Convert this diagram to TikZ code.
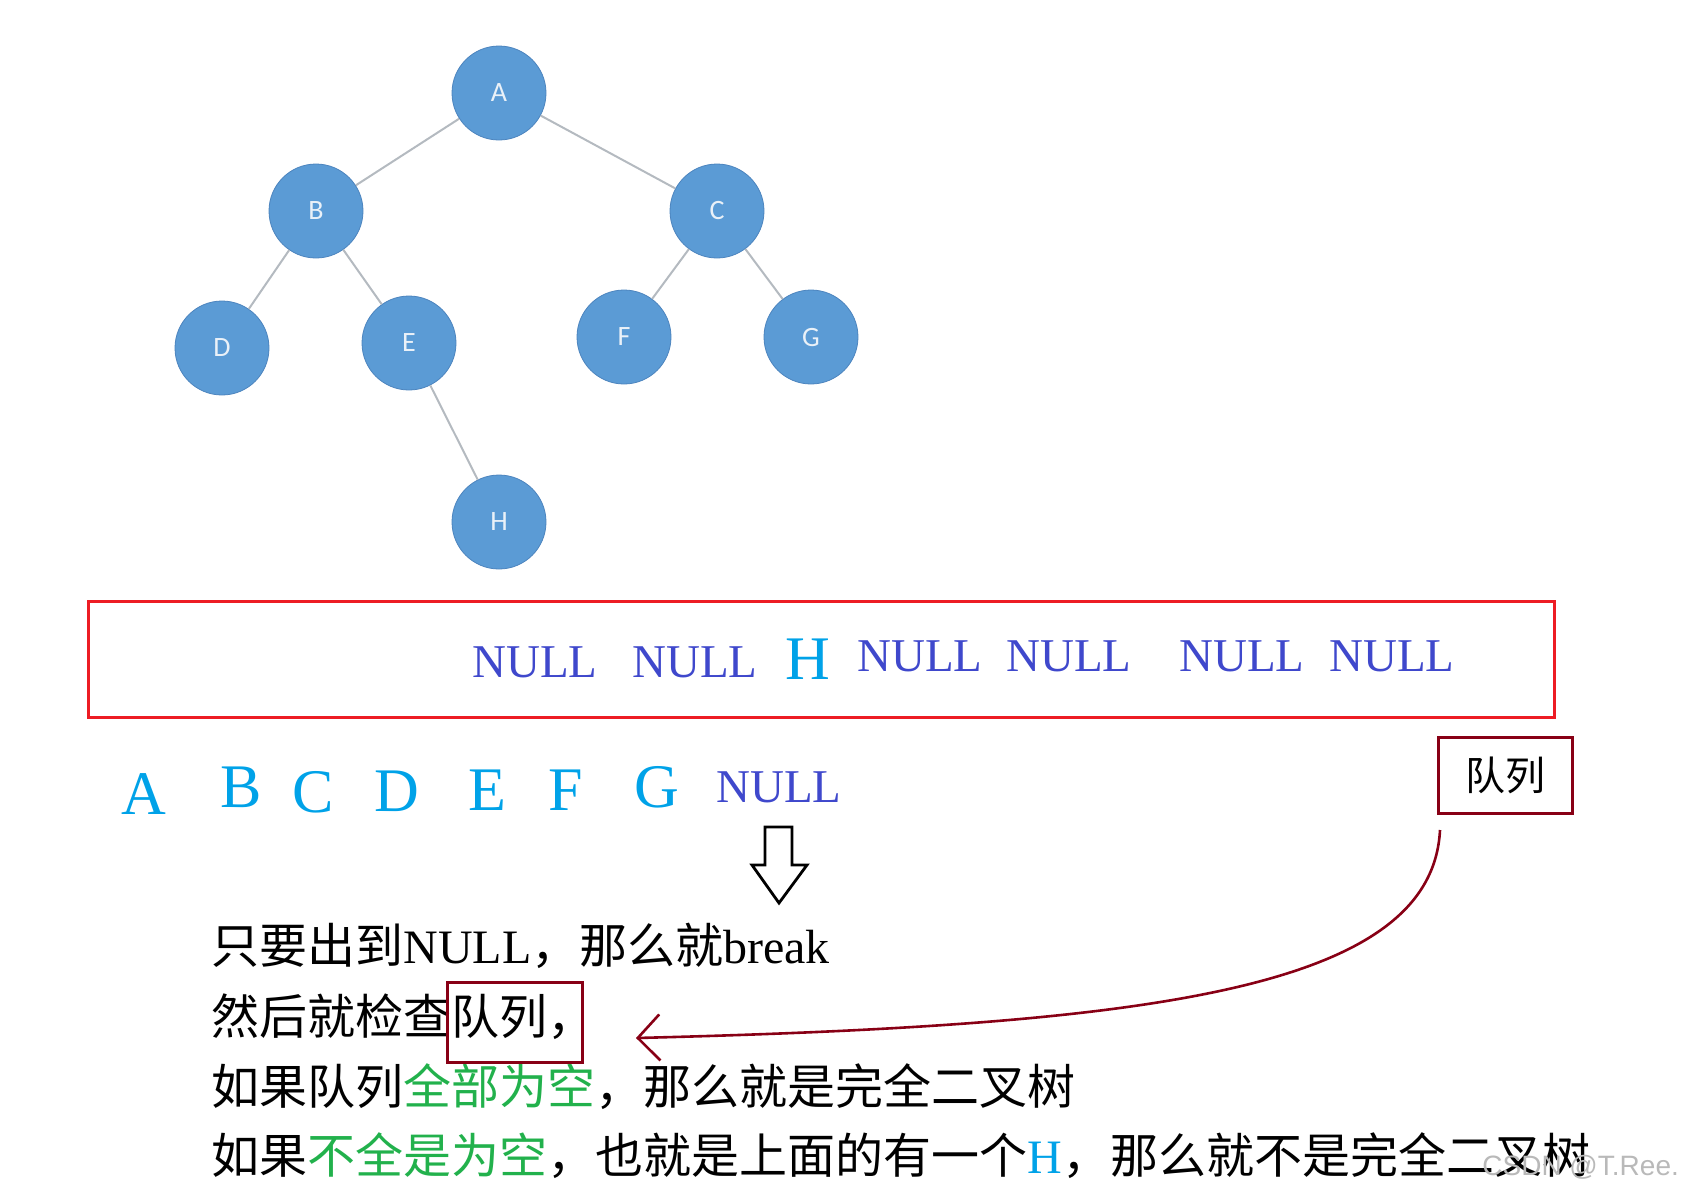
\documentclass[tikz,border=0pt]{standalone}
\usepackage{fontspec}
\setmainfont{Liberation Serif}
\newfontfamily\cjk{Noto Sans CJK SC}
\newfontfamily\treefont{Carlito}
\newfontfamily\markfont{Liberation Sans}
\definecolor{NodeBlue}{RGB}{91,155,213}
\definecolor{NodeRim}{RGB}{76,132,190}
\definecolor{NodeText}{RGB}{234,241,248}
\definecolor{EdgeGray}{RGB}{180,186,192}
\definecolor{BoxRed}{RGB}{237,28,36}
\definecolor{QueueRed}{RGB}{136,0,21}
\definecolor{NullBlue}{RGB}{63,72,204}
\definecolor{LetterCyan}{RGB}{0,162,232}
\definecolor{EmptyGreen}{RGB}{34,177,76}
\usetikzlibrary{arrows.meta, positioning}
\newcommand{\fsz}[1]{\fontsize{#1}{#1}\selectfont}
\tikzset{
	treenode/.style={circle, fill=NodeBlue, draw=NodeRim, line width=0.4pt,
		minimum size=47pt, inner sep=0pt, text=NodeText, font=\treefont\fsz{14}},
	treeedge/.style={EdgeGray, line width=1pt},
	nulltxt/.style={anchor=base west, inner sep=0pt, text=NullBlue, font=\fsz{23.5}},
	lettertxt/.style={anchor=base, inner sep=0pt, text=LetterCyan, font=\fsz{31}},
	linetxt/.style={anchor=base west, inner sep=0pt, font=\fsz{24}}
}

\begin{document}
\begin{tikzpicture}[x=0.5pt, y=-0.5pt]
	\useasboundingbox (0,0) rectangle (1699,1196);
	% tree
	\node[treenode] (A) at (499,93) {A};
	\node[treenode] (B) at (316,211) {B};
	\node[treenode] (C) at (717,211) {C};
	\node[treenode] (D) at (222,348) {D};
	\node[treenode] (E) at (409,343) {E};
	\node[treenode] (F) at (624,337) {F};
	\node[treenode] (G) at (811,337) {G};
	\node[treenode] (H) at (499,522) {H};
	\foreach \p/\c in {A/B, A/C, B/D, B/E, C/F, C/G, E/H}
		\draw[treeedge] (\p) -- (\c);

	% queue contents
	\draw[BoxRed, line width=1.5pt] (88,601) rectangle (1554,717);
	\node[nulltxt] (n1) at (472,677) {NULL};
	\node[nulltxt] (n2) at (632,677) {NULL};
	\node[lettertxt] (qh) at (808,679) {H};
	\node[nulltxt] (n3) at (857,671) {NULL};
	\node[nulltxt] (n4) at (1006,671) {NULL};
	\node[nulltxt] (n5) at (1179,671) {NULL};
	\node[nulltxt] (n6) at (1329,671) {NULL};

	% dequeued order
	\node[lettertxt] (oa) at (144,814) {A};
	\node[lettertxt] (ob) at (241,807) {B};
	\node[lettertxt] (oc) at (313,812) {C};
	\node[lettertxt] (od) at (397,811) {D};
	\node[lettertxt] (oe) at (487,810) {E};
	\node[lettertxt] (of) at (566,810) {F};
	\node[lettertxt] (og) at (657,807) {G};
	\node[nulltxt] (onull) at (716,802) {NULL};

	\node[draw=QueueRed, line width=1.5pt, minimum width=67pt, minimum height=38pt,
		font=\cjk\fsz{20}] (qlabel) at (1505,775) {队列};

	% hollow arrow
	\draw[line width=1.4pt, line join=miter] (765,827) -- (792,827) -- (792,865) -- (807,865)
		-- (779,903) -- (752,865) -- (765,865) -- cycle;

	% explanation
	\node[linetxt] (l1) at (211,963) {{\cjk 只要出到}NULL{\cjk ，那么就}break};
	\node[linetxt] (l2) at (211,1034) {\cjk 然后就检查队列，};
	\node[linetxt] (l3) at (211,1104) {\cjk 如果队列\textcolor{EmptyGreen}{全部为空}，那么就是完全二叉树};
	\node[linetxt] (l4) at (211,1173) {{\cjk 如果\textcolor{EmptyGreen}{不全是为空}，也就是上面的有一个}\textcolor{LetterCyan}{H}{\cjk ，那么就不是完全二叉树}};
	\node[draw=QueueRed, line width=1.3pt, minimum width=67.5pt, minimum height=40pt,
		anchor=north west] (qbox) at (446,981) {};

	\coordinate (cstart) at (1440,830);
	\coordinate (ctip) at (636,1038);
	\draw[QueueRed, line width=1.3pt, -{Straight Barb[length=11pt, width=23pt]}]
		(cstart) .. controls (1432,990) and (1150,1025) .. (ctip);

	\node[anchor=base west, inner sep=0pt, text=gray!55, font=\markfont\fsz{14}] (mark) at (1482,1175) {CSDN @T.Ree.};
\end{tikzpicture}
\end{document}
